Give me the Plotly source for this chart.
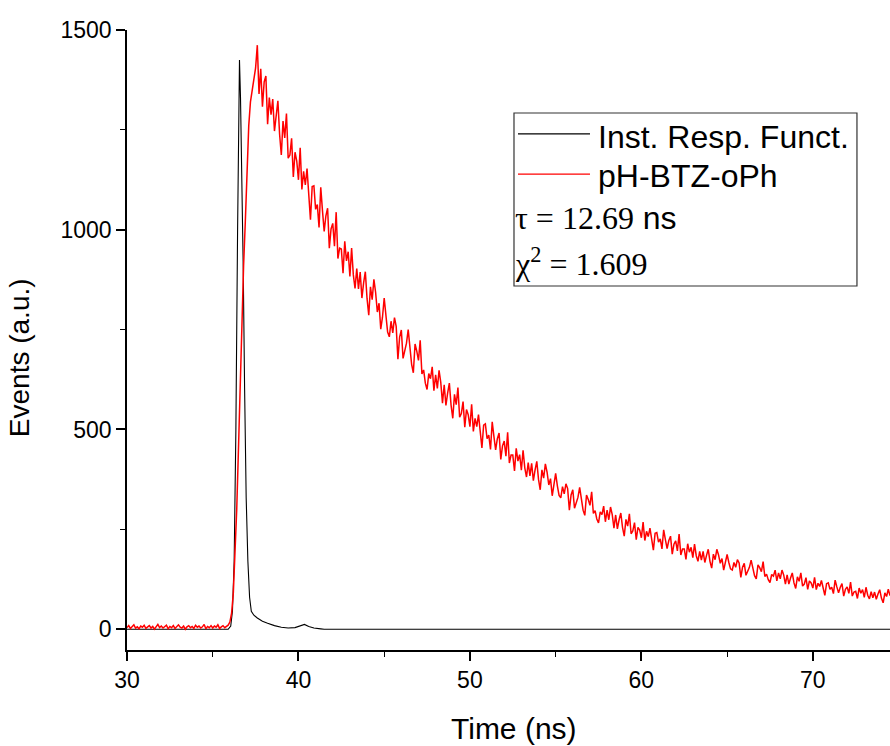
import plotly.graph_objects as go

# ---------------- data ----------------
IRF_NAME = "Inst. Resp. Funct."
SAMPLE_NAME = "pH-BTZ-oPh"
TAU_TEXT = "12.69"
CHI2_TEXT = "1.609"

# Instrument response function (ns, counts)
irf_time = [30.0, 35.9, 36.05, 36.15, 36.25, 36.35, 36.45, 36.52, 36.56, 36.62,
            36.7, 36.78, 36.86, 36.95, 37.05, 37.15, 37.25, 37.4, 37.6, 37.9,
            38.2, 38.6, 39.0, 39.4, 39.8, 40.1, 40.35, 40.6, 40.9, 41.3, 41.5, 74.5]
irf_counts = [0, 0, 8, 45, 170, 500, 1000, 1350, 1425, 1330,
              1150, 900, 600, 330, 170, 80, 45, 35, 28, 20,
              15, 9, 5, 3, 4, 8, 12, 7, 3, 1, 0, 0]

# Sample decay, channels every 0.1 ns starting at 30.0 ns
decay_start = 30.0
decay_step = 0.1
decay_counts = [
    4, 9, 2, 7, 11, 3, 6, 1, 8, 5,
    10, 2, 6, 9, 3, 7, 0, 5, 12, 4,
    8, 3, 6, 10, 1, 7, 4, 9, 2, 6,
    11, 5, 3, 8, 0, 6, 9, 4, 7, 2,
    10, 5, 8, 3, 6, 12, 1, 7, 4, 9,
    3, 8, 5, 11, 2, 6, 9, 4, 7,
    10, 18, 40, 90, 180, 300, 450, 620, 780, 910, 1020, 1150, 1260, 1320, 1350, 1372,
    1405, 1462, 1340, 1403, 1308, 1370, 1385, 1264, 1331, 1288,
    1327, 1247, 1290, 1323, 1239, 1187, 1272, 1230, 1291, 1179,
    1187, 1229, 1132, 1194, 1172, 1125, 1205, 1101, 1146, 1112,
    1153, 1092, 1025, 1108, 1110, 1051, 1063, 1006, 1106, 1048,
    996, 1035, 1054, 954, 1002, 1016, 959, 1044, 928, 954,
    952, 891, 971, 922, 945, 883, 954, 887, 853, 903,
    852, 894, 829, 867, 895, 828, 786, 857, 825, 876,
    843, 794, 816, 751, 781, 829, 781, 744, 732, 771,
    742, 780, 758, 676, 731, 749, 678, 697, 716, 750,
    707, 663, 642, 714, 696, 673, 723, 639, 649, 616,
    600, 640, 627, 657, 597, 637, 603, 648, 618, 566,
    612, 560, 591, 616, 561, 528, 588, 562, 605, 531,
    540, 570, 506, 550, 537, 507, 563, 495, 528, 507,
    537, 497, 454, 511, 514, 477, 486, 450, 519, 482,
    449, 477, 491, 425, 459, 471, 433, 493, 416, 436,
    436, 396, 453, 421, 437, 398, 448, 404, 381, 417,
    384, 415, 372, 399, 420, 375, 349, 399, 378, 414,
    393, 361, 377, 334, 357, 390, 359, 335, 329, 357,
    339, 364, 352, 298, 336, 349, 303, 317, 330, 355,
    327, 298, 285, 336, 325, 310, 344, 290, 297, 276,
    266, 294, 287, 308, 269, 298, 274, 306, 287, 253,
    286, 251, 274, 291, 255, 233, 275, 258, 289, 239,
    246, 267, 224, 255, 248, 229, 268, 222, 245, 232,
    253, 228, 198, 240, 242, 218, 226, 201, 249, 224,
    202, 222, 233, 188, 213, 221, 196, 238, 186, 201,
    201, 175, 214, 193, 205, 179, 213, 184, 170, 195,
    173, 195, 167, 185, 200, 170, 153, 188, 174, 200,
    186, 165, 177, 148, 164, 187, 167, 151, 148, 167,
    155, 174, 166, 130, 155, 165, 135, 145, 155, 173,
    154, 134, 126, 161, 154, 144, 169, 132, 138, 124,
    117, 137, 133, 148, 121, 141, 126, 148, 136, 113,
    136, 113, 128, 141, 116, 102, 131, 120, 141, 108,
    113, 129, 100, 121, 116, 103, 130, 99, 115, 107,
    122, 105, 85, 114, 116, 100, 105, 89, 123, 106,
    91, 105, 114, 83, 100, 106, 90, 118, 83, 93,
    95, 77, 103, 90, 99, 80, 105, 85, 76, 94,
    79, 93, 75, 88, 99, 78, 66, 91, 82, 100,
    84,
]

x_range = [30, 74.5]
y_range = [-52, 1500]
x_ticks = [30, 40, 50, 60, 70]
y_ticks = [0, 500, 1000, 1500]

# ---------------- figure ----------------
SANS = "Liberation Sans, Arial, sans-serif"
SERIF = "Liberation Serif, Times New Roman, serif"

fig = go.Figure()
fig.add_trace(go.Scatter(x=irf_time, y=irf_counts, mode="lines", name=IRF_NAME,
                         line=dict(color="black", width=1.1), showlegend=False))
fig.add_trace(go.Scatter(x0=decay_start, dx=decay_step, y=decay_counts, mode="lines",
                         name=SAMPLE_NAME, line=dict(color="#ff0000", width=1.5),
                         showlegend=False))

axis_common = dict(showgrid=False, zeroline=False, showline=True, linecolor="black",
                   linewidth=1.6, ticks="outside", ticklen=9, tickwidth=1.5,
                   tickcolor="black", mirror=False,
                   tickfont=dict(family=SANS, size=23, color="black"))

fig.update_xaxes(range=x_range, tickvals=x_ticks, ticktext=[str(v) for v in x_ticks],
                 minor=dict(ticks="outside", ticklen=5, tickwidth=1.3, tickcolor="black",
                            dtick=5, tick0=30),
                 **axis_common)
fig.update_yaxes(range=y_range, tickvals=y_ticks, ticktext=[str(v) for v in y_ticks],
                 minor=dict(ticks="outside", ticklen=5, tickwidth=1.3, tickcolor="black",
                            dtick=250, tick0=0),
                 **axis_common)

# axis titles
fig.add_annotation(text="Time (ns)", xref="paper", yref="paper", x=0.507, y=-0.126,
                   showarrow=False, xanchor="center", yanchor="middle",
                   font=dict(family=SANS, size=30, color="black"))
fig.add_annotation(text="Events (a.u.)", xref="paper", yref="paper", x=-0.14, y=0.471,
                   showarrow=False, xanchor="center", yanchor="middle", textangle=-90,
                   font=dict(family=SANS, size=28, color="black"))

# legend box (drawn manually, Origin style)
fig.add_shape(type="rect", xref="paper", yref="paper", x0=0.5072, x1=0.9567,
              y0=0.5871, y1=0.8661, line=dict(color="#333333", width=1.2),
              fillcolor="white", layer="above")
fig.add_shape(type="line", xref="paper", yref="paper", x0=0.5124, x1=0.6068,
              y0=0.8323, y1=0.8323, line=dict(color="black", width=1.2), layer="above")
fig.add_shape(type="line", xref="paper", yref="paper", x0=0.5124, x1=0.6068,
              y0=0.7677, y1=0.7677, line=dict(color="#ff0000", width=1.2), layer="above")
fig.add_annotation(text=IRF_NAME, xref="paper", yref="paper", x=0.6147, y=0.8274,
                   showarrow=False, xanchor="left", yanchor="middle",
                   font=dict(family=SANS, size=32, color="black"))
fig.add_annotation(text=SAMPLE_NAME, xref="paper", yref="paper", x=0.6147, y=0.7645,
                   showarrow=False, xanchor="left", yanchor="middle",
                   font=dict(family=SANS, size=32, color="black"))
fig.add_annotation(text="τ = " + TAU_TEXT + "<span style='font-family:Liberation Sans'> ns</span>",
                   xref="paper", yref="paper", x=0.5059, y=0.6968,
                   showarrow=False, xanchor="left", yanchor="middle",
                   font=dict(family=SERIF, size=32, color="black"))
fig.add_annotation(text="χ<sup>2</sup> = " + CHI2_TEXT,
                   xref="paper", yref="paper", x=0.5059, y=0.6258,
                   showarrow=False, xanchor="left", yanchor="middle",
                   font=dict(family=SERIF, size=32, color="black"))

fig.update_layout(width=890, height=746, margin=dict(l=127, r=0, t=30, b=96),
                  paper_bgcolor="white", plot_bgcolor="white", showlegend=False)

fig.write_html("out.html")
